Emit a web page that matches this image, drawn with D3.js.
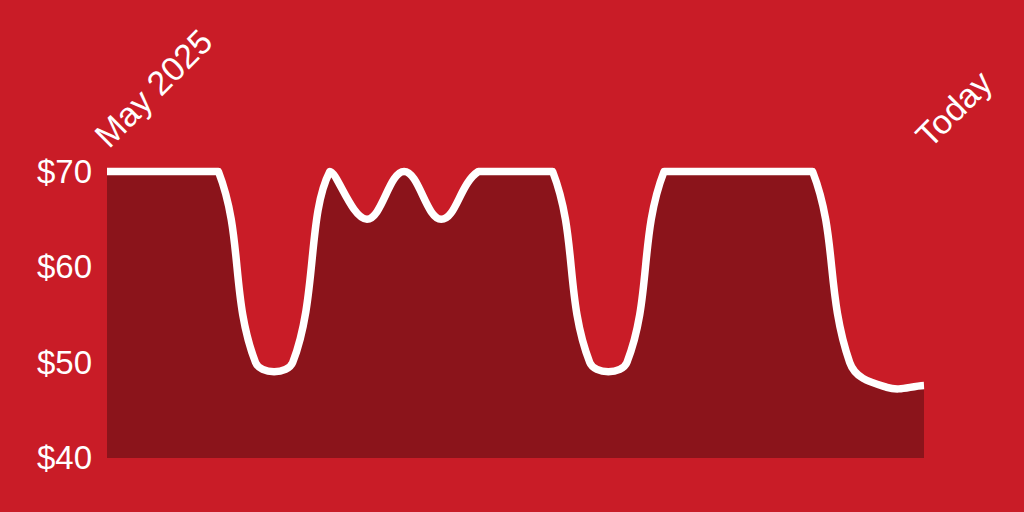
<!DOCTYPE html>
<html>
<head>
<meta charset="utf-8">
<script src="https://cdn.jsdelivr.net/npm/d3@7"></script>
<style>
  html, body { margin: 0; padding: 0; background: #c91c27; }
  svg { display: block; }
  text { font-family: "Liberation Sans", Arial, sans-serif; fill: #fff; }
</style>
</head>
<body>
<div id="chart"></div>
<script>
/* CONSTANTS AND GLOBALS */
const width = 1024,
  height = 512,
  margin = { top: 171.5, bottom: 54, left: 107, right: 100 };

// prices, one point per step from May 2025 to today
const prices = [70, 70, 70, 70, 50, 50, 70, 65, 70, 65, 70, 70,
  70, 50, 50, 70, 70, 70, 70, 70, 50, 47.4, 47.6];
const yTicks = [40, 50, 60, 70];
const startLabel = "May 2025";
const endLabel = "Today";

const data = prices.map((p, i) => ({ i: i, price: p }));

const svg = d3.select("#chart")
  .append("svg")
  .attr("width", width)
  .attr("height", height);

svg.append("rect")
  .attr("width", width)
  .attr("height", height)
  .attr("fill", "#c91c27");

// + SCALES
const xScale = d3.scaleLinear()
  .domain([0, prices.length - 1])
  .range([margin.left, width - margin.right]);

const yScale = d3.scaleLinear()
  .domain([40, 70])
  .range([height - margin.bottom, margin.top]);

// smooth spline with tension, control points kept inside the plot box
// (so the flat tops stay flat and the peaks come out pointed)
function cappedSpline(tension, box) {
  function Spline(context) { this._context = context; }
  Spline.prototype = {
    areaStart() { this._line = 0; },
    areaEnd() { this._line = NaN; },
    lineStart() { this._x = []; this._y = []; },
    point(x, y) { this._x.push(+x); this._y.push(+y); },
    lineEnd() {
      const x = this._x, y = this._y, n = x.length, ctx = this._context;
      if (n) {
        this._line ? ctx.lineTo(x[0], y[0]) : ctx.moveTo(x[0], y[0]);
        if (n === 2) ctx.lineTo(x[1], y[1]);
        else if (n > 2) {
          const cp = [];
          for (let i = 0; i < n; i++) {
            const p = Math.max(i - 1, 0), q = Math.min(i + 1, n - 1);
            const d01 = Math.hypot(x[i] - x[p], y[i] - y[p]);
            const d12 = Math.hypot(x[q] - x[i], y[q] - y[i]);
            let s01 = d01 / (d01 + d12), s12 = d12 / (d01 + d12);
            if (isNaN(s01)) s01 = 0;
            if (isNaN(s12)) s12 = 0;
            const fa = tension * s01, fb = tension * s12;
            const dx = x[q] - x[p], dy = y[q] - y[p];
            const clampX = v => Math.min(Math.max(v, box.left), box.right);
            const clampY = v => Math.min(Math.max(v, box.top), box.bottom);
            cp.push({
              px: clampX(x[i] - fa * dx), py: clampY(y[i] - fa * dy),
              nx: clampX(x[i] + fb * dx), ny: clampY(y[i] + fb * dy)
            });
          }
          for (let i = 1; i < n; i++) {
            ctx.bezierCurveTo(cp[i - 1].nx, cp[i - 1].ny, cp[i].px, cp[i].py, x[i], y[i]);
          }
        }
      }
      if (this._line || (this._line !== 0 && n === 1)) ctx.closePath();
      this._line = 1 - this._line;
      this._x = this._y = null;
    }
  };
  return context => new Spline(context);
}

const plotBox = {
  left: xScale.range()[0], right: xScale.range()[1],
  top: yScale(70), bottom: yScale(40)
};
const curve = cappedSpline(0.4, plotBox);

// + AREA AND LINE
const area = d3.area()
  .x(d => xScale(d.i))
  .y0(yScale(40))
  .y1(d => yScale(d.price))
  .curve(curve);

const line = d3.line()
  .x(d => xScale(d.i))
  .y(d => yScale(d.price))
  .curve(curve);

svg.append("path")
  .datum(data)
  .attr("d", area)
  .attr("fill", "#8b141b");

svg.append("path")
  .datum(data)
  .attr("d", line)
  .attr("fill", "none")
  .attr("stroke", "#fff")
  .attr("stroke-width", 7.5)
  .attr("stroke-linejoin", "round");

// + Y AXIS (labels only)
const yAxis = d3.axisLeft(yScale)
  .tickValues(yTicks)
  .tickFormat(d => "$" + d)
  .tickSize(0)
  .tickPadding(0);

const yAxisGroup = svg.append("g")
  .attr("transform", `translate(${margin.left - 15}, 0)`)
  .call(yAxis);

yAxisGroup.select(".domain").remove();
yAxisGroup.selectAll("text")
  .attr("fill", "#fff")
  .style("font-size", "33px")
  .style("font-family", "'Liberation Sans', Arial, sans-serif");

// + DATE LABELS, rotated
const labelY = yScale(70) - 22;

svg.append("text")
  .attr("transform", `translate(${xScale(0) + 2}, ${labelY}) rotate(-45)`)
  .attr("text-anchor", "start")
  .style("font-size", "34px")
  .text(startLabel);

svg.append("text")
  .attr("transform", `translate(${xScale(prices.length - 1) + 6}, ${labelY}) rotate(-45)`)
  .attr("text-anchor", "start")
  .style("font-size", "34px")
  .text(endLabel);
</script>
</body>
</html>
